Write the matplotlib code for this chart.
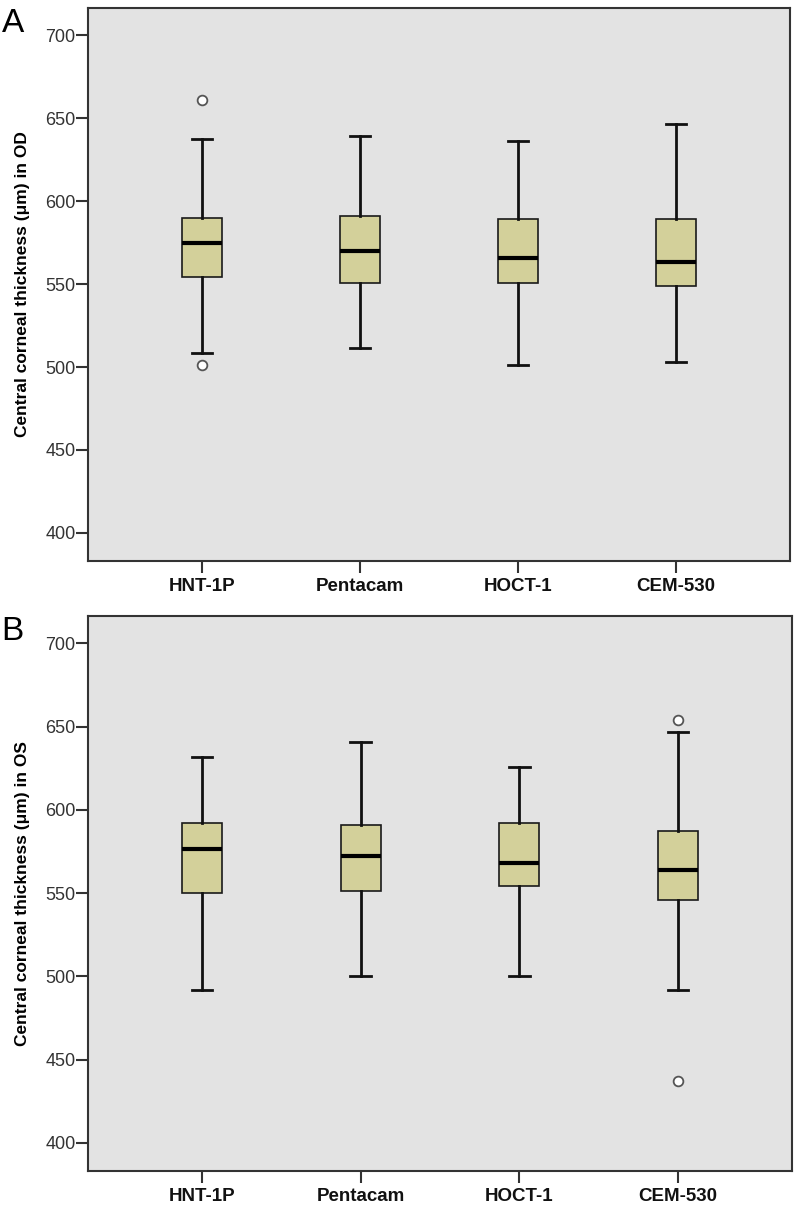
import matplotlib
matplotlib.use("Agg")
import matplotlib.pyplot as plt

# Categories (devices)
devices = ["HNT-1P", "Pentacam", "HOCT-1", "CEM-530"]

# Panel A - right eye (OD)
od_whislo = [508.5, 511.5, 501.0, 503.0]
od_q1 = [554.0, 550.5, 550.5, 549.0]
od_med = [575.0, 570.0, 566.0, 563.5]
od_q3 = [590.0, 591.0, 589.5, 589.5]
od_whishi = [637.5, 639.5, 636.5, 646.5]
od_fliers = [[661.0, 501.0], [], [], []]

# Panel B - left eye (OS)
os_whislo = [492.0, 500.0, 500.0, 492.0]
os_q1 = [550.0, 551.5, 554.5, 546.0]
os_med = [576.5, 572.5, 568.0, 564.0]
os_q3 = [592.0, 591.0, 592.0, 587.5]
os_whishi = [632.0, 641.0, 626.0, 647.0]
os_fliers = [[], [], [], [654.0, 437.0]]

yticks = [400, 450, 500, 550, 600, 650, 700]

plt.rcParams['font.family'] = ['Liberation Sans', 'DejaVu Sans']

BG = "#e3e3e3"
BOX = "#d3d09a"


def make_stats(lo, q1, med, q3, hi, fl):
    stats = []
    for i in range(len(devices)):
        stats.append({
            "label": devices[i],
            "whislo": lo[i], "q1": q1[i], "med": med[i],
            "q3": q3[i], "whishi": hi[i], "fliers": fl[i],
        })
    return stats


def draw_panel(ax, stats, ylabel, letter):
    ax.set_facecolor(BG)
    ax.bxp(stats, positions=range(1, len(devices) + 1), widths=0.255,
           patch_artist=True, showfliers=True,
           boxprops=dict(facecolor=BOX, edgecolor="#1a1a1a", linewidth=1.2),
           medianprops=dict(color="black", linewidth=3),
           whiskerprops=dict(color="#111111", linewidth=2),
           capprops=dict(color="#111111", linewidth=2),
           capwidths=0.13,
           flierprops=dict(marker="o", markersize=7, markerfacecolor="white",
                           markeredgecolor="#555555", markeredgewidth=1.3))
    ax.set_xlim(0.28, 4.72)
    ax.set_ylim(383, 716.5)
    ax.set_yticks(yticks)
    ax.set_yticklabels([str(t) for t in yticks], fontsize=13, color="#333333")
    ax.set_xticks(range(1, len(devices) + 1))
    ax.set_xticklabels(devices, fontsize=13.5, fontweight="bold", color="#111111")
    ax.tick_params(axis="both", direction="out", length=8.5, width=1.5, color="#333333")
    ax.tick_params(axis="y", pad=0.5)
    ax.tick_params(axis="x", pad=4)
    for s in ax.spines.values():
        s.set_color("#333333")
        s.set_linewidth(1.5)
    ax.set_ylabel(ylabel, fontsize=12.5, fontweight="bold", labelpad=11)
    ax.text(-0.123, 1.0, letter, transform=ax.transAxes, fontsize=24,
            va="top", ha="left")


fig = plt.figure(figsize=(8, 12.05), dpi=100)
ax_a = fig.add_axes([0.11, 0.5344, 0.8775, 0.4590])
ax_b = fig.add_axes([0.11, 0.0282, 0.8800, 0.4606])

draw_panel(ax_a, make_stats(od_whislo, od_q1, od_med, od_q3, od_whishi, od_fliers),
           "Central corneal thickness (\u03bcm) in OD", "A")
draw_panel(ax_b, make_stats(os_whislo, os_q1, os_med, os_q3, os_whishi, os_fliers),
           "Central corneal thickness (\u03bcm) in OS", "B")

fig.savefig("out.png", dpi=100)
